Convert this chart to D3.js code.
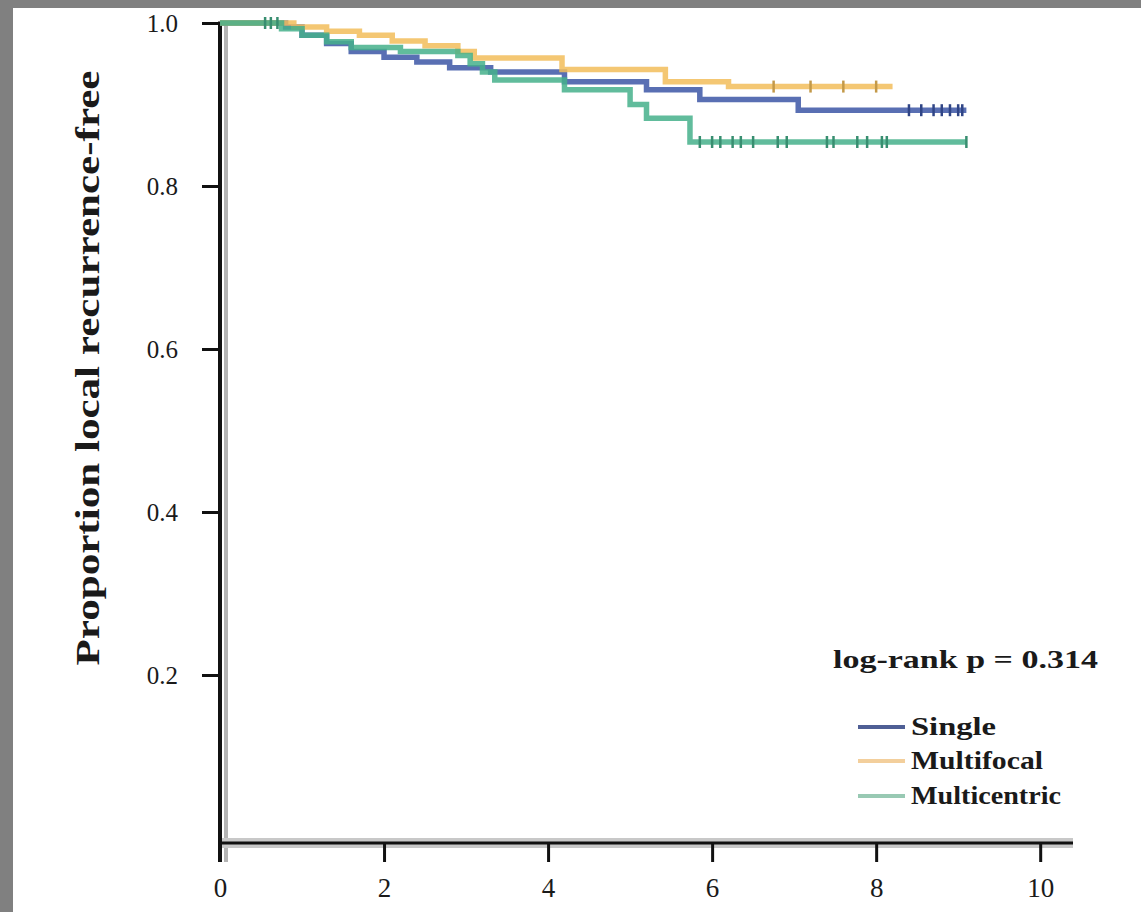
<!DOCTYPE html>
<html>
<head>
<meta charset="utf-8">
<script src="https://cdn.jsdelivr.net/npm/d3@7"></script>
<style>
  html, body { margin: 0; padding: 0; background: #fff; overflow: hidden; }
  svg { display: block; }
  .tick text { font-family: "Liberation Serif", "DejaVu Serif", serif; fill: #1a1a1a; }
</style>
</head>
<body>
<div id="chart"></div>
<script>
// Kaplan-Meier steps (time in years, proportion free)
const singleTimes = [0, 0.8, 1.0, 1.3, 1.6, 2.0, 2.4, 2.8, 3.3, 4.2, 5.2, 5.85, 7.05, 9.1];
const singleSurv = [1.0, 0.995, 0.985, 0.975, 0.965, 0.958, 0.952, 0.945, 0.940, 0.928, 0.918, 0.906, 0.893, 0.893];
const singleCensor = [8.4, 8.55, 8.7, 8.8, 8.9, 9.0, 9.05];

const multifocalTimes = [0, 0.9, 1.3, 1.7, 2.1, 2.5, 2.9, 3.1, 4.17, 5.43, 6.2, 8.2];
const multifocalSurv = [1.0, 0.995, 0.99, 0.985, 0.978, 0.972, 0.965, 0.957, 0.943, 0.928, 0.922, 0.922];
const multifocalCensor = [6.75, 7.2, 7.6, 8.0];

const multicentricTimes = [0, 0.75, 1.0, 1.3, 1.6, 2.2, 2.9, 3.05, 3.2, 3.35, 4.2, 5.0, 5.2, 5.73, 9.1];
const multicentricSurv = [1.0, 0.993, 0.985, 0.977, 0.97, 0.965, 0.96, 0.95, 0.94, 0.93, 0.918, 0.9, 0.883, 0.854, 0.854];
const multicentricCensor = [0.55, 0.62, 0.7, 5.85, 6.0, 6.1, 6.25, 6.35, 6.5, 6.8, 6.91, 7.4, 7.48, 7.77, 7.89, 8.07, 8.13, 9.1];

const seriesNames = ['Single', 'Multifocal', 'Multicentric'];
const seriesColors = ['#3c56a6', '#f2bd5a', '#45b08b'];
const legendColors = ['#4f5f95', '#f3cf9c', '#98c9b3'];

const xTicks = [0, 2, 4, 6, 8, 10];
const yTicks = [0.2, 0.4, 0.6, 0.8, 1.0];
const yLabel = 'Proportion local recurrence-free';
const pText = 'log-rank p = 0.314';

const W = 1141, H = 912;
const svg = d3.select('#chart').append('svg')
  .attr('width', W)
  .attr('height', H);

// grey frame only on the top and left of the scan
svg.append('rect').attr('x', 0).attr('y', 0).attr('width', W).attr('height', 8).attr('fill', '#808080');
svg.append('rect').attr('x', 0).attr('y', 0).attr('width', 13).attr('height', H).attr('fill', '#808080');

const x = d3.scaleLinear().domain([0, 10.4]).range([220, 1073]);
const y = d3.scaleLinear().domain([0, 1]).range([838, 23]);

const serif = '"Liberation Serif", "DejaVu Serif", serif';

// axis lines (with the soft grey halo seen in the scan)
svg.append('line')
  .attr('x1', x(0) + 6).attr('x2', x(0) + 6)
  .attr('y1', y(1)).attr('y2', 862)
  .attr('stroke', '#b4b4b4').attr('stroke-width', 4);
svg.append('line')
  .attr('x1', x(0)).attr('x2', x(10.4))
  .attr('y1', 843).attr('y2', 843)
  .attr('stroke', '#c8c8c8').attr('stroke-width', 10);

// y axis
const yAxis = svg.append('g')
  .attr('transform', `translate(${x(0)},0)`)
  .call(d3.axisLeft(y)
    .tickValues(yTicks)
    .tickFormat(d3.format('.1f'))
    .tickSize(18)
    .tickSizeOuter(0)
    .tickPadding(24));
yAxis.select('.domain').remove();
yAxis.selectAll('.tick line').attr('stroke', '#111').attr('stroke-width', 3);
yAxis.selectAll('.tick text').attr('font-size', 25).attr('dy', '0.35em');
svg.append('line')
  .attr('x1', x(0)).attr('x2', x(0))
  .attr('y1', y(1) - 1.5).attr('y2', 862)
  .attr('stroke', '#111').attr('stroke-width', 4);

// x axis
const xAxis = svg.append('g')
  .attr('transform', 'translate(0,843)')
  .call(d3.axisBottom(x)
    .tickValues(xTicks)
    .tickFormat(d3.format('d'))
    .tickSize(19)
    .tickSizeOuter(0)
    .tickPadding(16));
xAxis.select('.domain').remove();
xAxis.selectAll('.tick line').attr('stroke', '#111').attr('stroke-width', 3);
xAxis.selectAll('.tick text').attr('font-size', 27);
svg.append('line')
  .attr('x1', x(0)).attr('x2', x(10.4))
  .attr('y1', 843).attr('y2', 843)
  .attr('stroke', '#111').attr('stroke-width', 3);

// y axis title
svg.append('text')
  .attr('transform', 'translate(99,368) rotate(-90)')
  .attr('text-anchor', 'middle')
  .attr('font-family', serif)
  .attr('font-weight', 'bold')
  .attr('font-size', 33)
  .attr('textLength', 595)
  .attr('lengthAdjust', 'spacingAndGlyphs')
  .attr('fill', '#1a1a1a')
  .text(yLabel);

// curves
const series = [
  { times: singleTimes, surv: singleSurv, censor: singleCensor },
  { times: multifocalTimes, surv: multifocalSurv, censor: multifocalCensor },
  { times: multicentricTimes, surv: multicentricSurv, censor: multicentricCensor }
];

const line = d3.line()
  .x(d => x(d[0]))
  .y(d => y(d[1]))
  .curve(d3.curveStepAfter);

function survAt(s, t) {
  let v = s.surv[0];
  for (let i = 0; i < s.times.length; i++) {
    if (s.times[i] <= t) v = s.surv[i];
  }
  return v;
}

const curves = svg.append('g').attr('class', 'curves');
// draw order: single, multifocal, multicentric on top
series.forEach((s, i) => {
  const pts = s.times.map((t, j) => [t, s.surv[j]]);
  curves.append('path')
    .datum(pts)
    .attr('fill', 'none')
    .attr('stroke', seriesColors[i])
    .attr('stroke-width', 5.5)
    .attr('stroke-opacity', 0.85)
    .attr('d', line);

  curves.selectAll(null)
    .data(s.censor)
    .join('line')
    .attr('x1', d => x(d)).attr('x2', d => x(d))
    .attr('y1', d => y(survAt(s, d)) - 6)
    .attr('y2', d => y(survAt(s, d)) + 6)
    .attr('stroke', d3.color(seriesColors[i]).darker(0.6))
    .attr('stroke-width', 2.5);
});

// log-rank text
svg.append('text')
  .attr('x', 833).attr('y', 668)
  .attr('font-family', serif)
  .attr('font-weight', 'bold')
  .attr('font-size', 26)
  .attr('textLength', 265)
  .attr('lengthAdjust', 'spacingAndGlyphs')
  .attr('fill', '#1a1a1a')
  .text(pText);

// legend
const legendY = [727, 761, 796];
const legendWidths = [85, 132, 150];
const legend = svg.append('g');
seriesNames.forEach((name, i) => {
  legend.append('line')
    .attr('x1', 858).attr('x2', 905)
    .attr('y1', legendY[i]).attr('y2', legendY[i])
    .attr('stroke', legendColors[i])
    .attr('stroke-width', 4);
  legend.append('text')
    .attr('x', 911).attr('y', legendY[i] + 8)
    .attr('font-family', serif)
    .attr('font-weight', 'bold')
    .attr('font-size', 26)
    .attr('textLength', legendWidths[i])
    .attr('lengthAdjust', 'spacingAndGlyphs')
    .attr('fill', '#1a1a1a')
    .text(name);
});
</script>
</body>
</html>
